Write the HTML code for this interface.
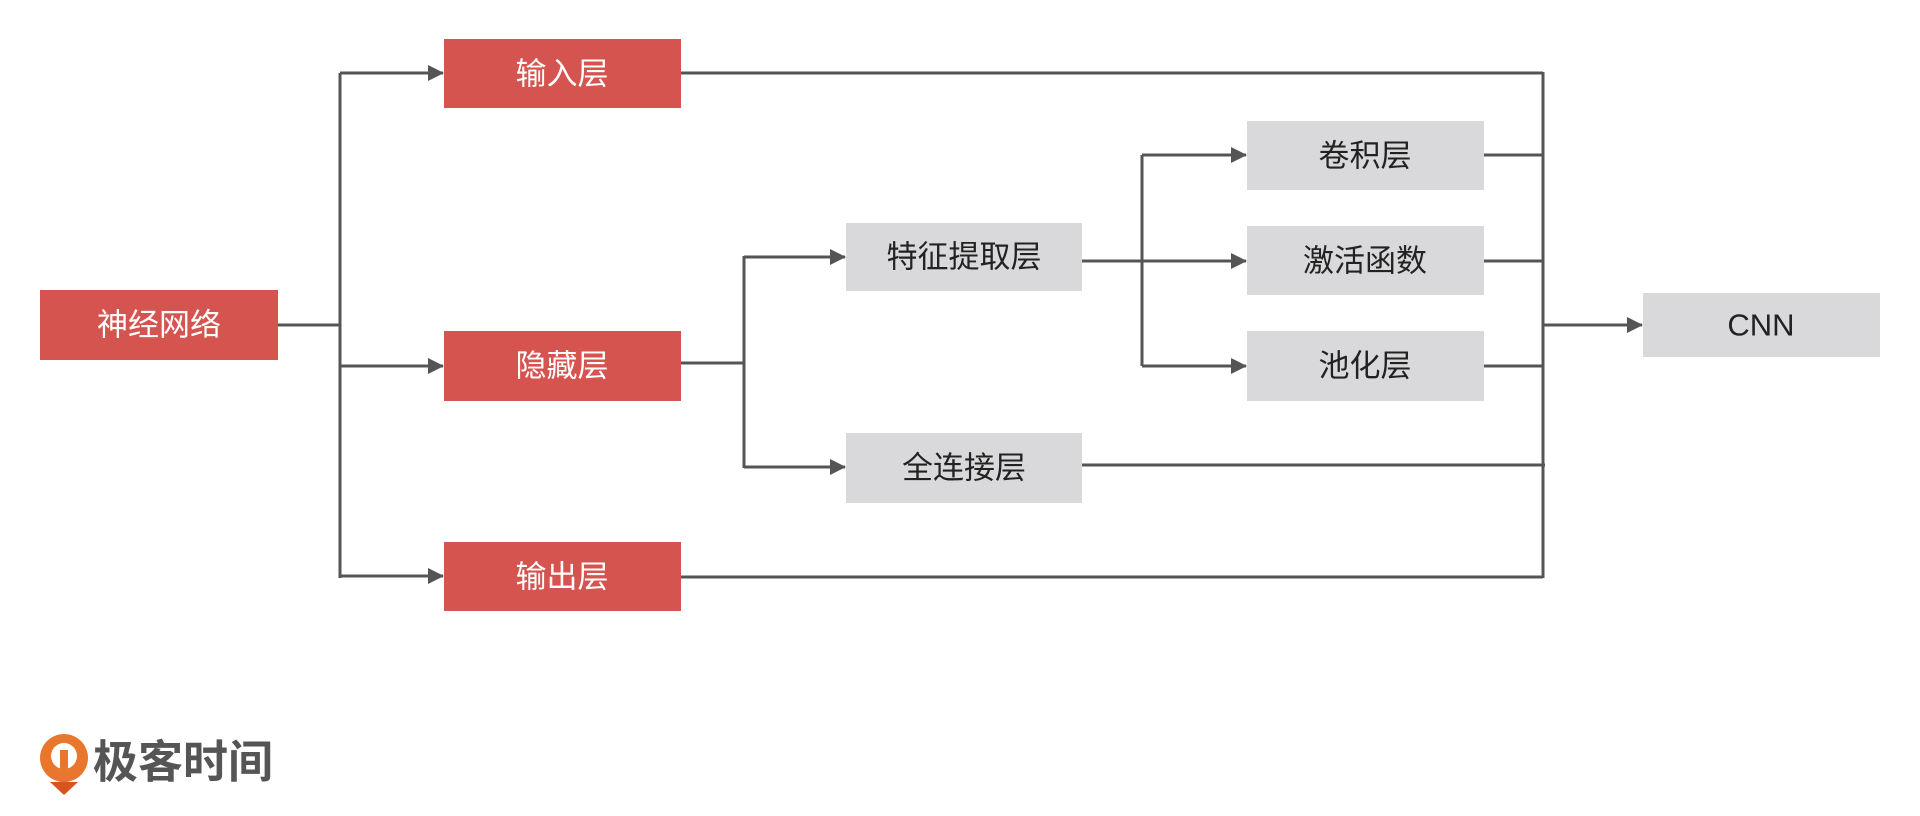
<!DOCTYPE html>
<html><head><meta charset="utf-8"><style>
html,body{margin:0;padding:0;background:#fff;}
svg{display:block}
text{font-family:"Liberation Sans","Noto Sans CJK SC",sans-serif;font-size:31px;text-anchor:middle;dominant-baseline:central}
.w{fill:#fff}.d{fill:#222}
</style></head><body>
<svg width="1920" height="816" viewBox="0 0 1920 816" xmlns="http://www.w3.org/2000/svg">
<defs><marker id="a" markerWidth="16" markerHeight="16" refX="15" refY="8" orient="auto" markerUnits="userSpaceOnUse"><path d="M0,0 L16,8 L0,16 Z" fill="#555"/></marker></defs>
<g stroke="#555" stroke-width="3" fill="none">
<line x1="278" y1="325" x2="340" y2="325"/>
<line x1="340" y1="73" x2="340" y2="578"/>
<line x1="340" y1="73" x2="443" y2="73" marker-end="url(#a)"/>
<line x1="340" y1="366" x2="443" y2="366" marker-end="url(#a)"/>
<line x1="340" y1="576" x2="443" y2="576" marker-end="url(#a)"/>
<line x1="681" y1="363" x2="744" y2="363"/>
<line x1="744" y1="256" x2="744" y2="468"/>
<line x1="744" y1="257" x2="845" y2="257" marker-end="url(#a)"/>
<line x1="744" y1="467" x2="845" y2="467" marker-end="url(#a)"/>
<line x1="1082" y1="261" x2="1246" y2="261" marker-end="url(#a)"/>
<line x1="1142" y1="155" x2="1142" y2="366"/>
<line x1="1142" y1="155" x2="1246" y2="155" marker-end="url(#a)"/>
<line x1="1142" y1="366" x2="1246" y2="366" marker-end="url(#a)"/>
<line x1="681" y1="73" x2="1543" y2="73"/>
<line x1="681" y1="577" x2="1543" y2="577"/>
<line x1="1543" y1="72" x2="1543" y2="578"/>
<line x1="1484" y1="155" x2="1543" y2="155"/>
<line x1="1484" y1="261" x2="1543" y2="261"/>
<line x1="1484" y1="366" x2="1543" y2="366"/>
<line x1="1082" y1="465" x2="1545" y2="465"/>
<line x1="1543" y1="325" x2="1642" y2="325" marker-end="url(#a)"/>
</g>
<g fill="#d6544f">
<rect x="40" y="290" width="238" height="70"/>
<rect x="444" y="39" width="237" height="69"/>
<rect x="444" y="331" width="237" height="70"/>
<rect x="444" y="542" width="237" height="69"/>
</g>
<g fill="#d9d9db">
<rect x="846" y="223" width="236" height="68"/>
<rect x="846" y="433" width="236" height="70"/>
<rect x="1247" y="121" width="237" height="69"/>
<rect x="1247" y="226" width="237" height="69"/>
<rect x="1247" y="331" width="237" height="70"/>
<rect x="1643" y="293" width="237" height="64"/>
</g>
<text class="w" x="159" y="325">神经网络</text>
<text class="w" x="562" y="74">输入层</text>
<text class="w" x="562" y="366">隐藏层</text>
<text class="w" x="562" y="577">输出层</text>
<text class="d" x="964" y="257">特征提取层</text>
<text class="d" x="964" y="468">全连接层</text>
<text class="d" x="1365" y="156">卷积层</text>
<text class="d" x="1365" y="261">激活函数</text>
<text class="d" x="1365" y="366">池化层</text>
<text class="d" x="1761" y="325">CNN</text>
<g>
<circle cx="64" cy="758" r="24" fill="#e8762d"/>
<circle cx="64" cy="756" r="13" fill="#fff"/>
<path d="M60,750 L68,750 L68,788 L60,782 Z" fill="#e8762d"/>
<path d="M50,782 L64,795 L78,782 Z" fill="#d9531e"/>
<text x="183" y="762" style="font-size:45px;font-weight:bold;fill:#555">极客时间</text>
</g>
</svg>
</body></html>
